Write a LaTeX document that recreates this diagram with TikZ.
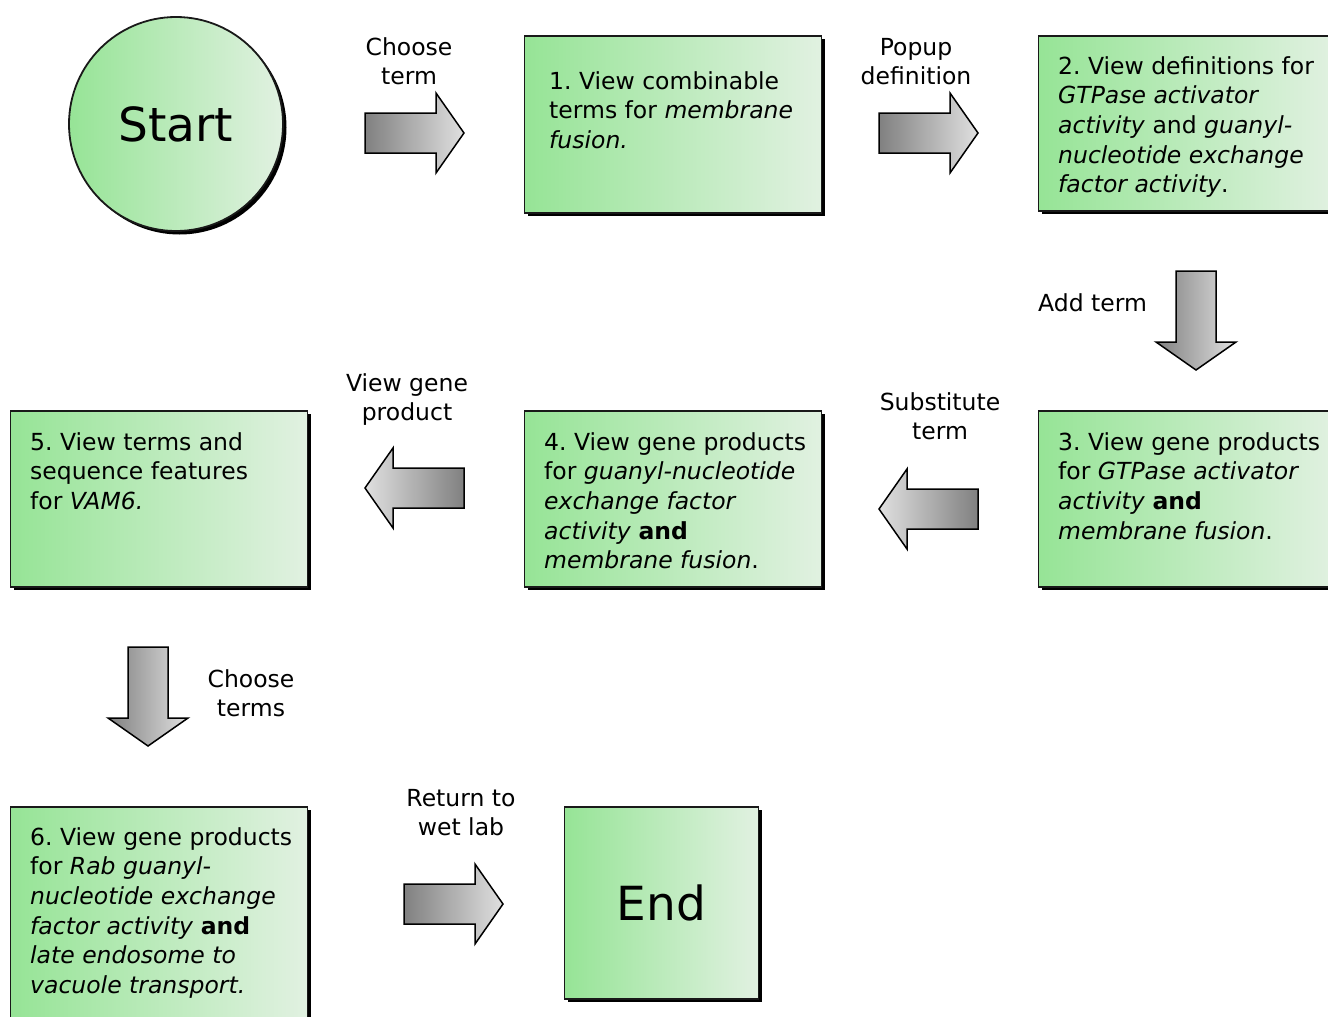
\documentclass[tikz,border=0pt]{standalone}
\usepackage{fontspec}
\setmainfont{DejaVu Sans}
\usetikzlibrary{shadows}
\frenchspacing
\definecolor{gl}{RGB}{150,228,150}
\definecolor{gr}{RGB}{225,241,225}
\definecolor{ad}{RGB}{128,128,128}
\definecolor{al}{RGB}{224,224,224}
\begin{document}
\begin{tikzpicture}[x=1pt,y=-1pt,
  box/.style={rectangle, draw=black!90, line width=1.8pt, left color=gl, right color=gr,
    general shadow={fill=black, shadow xshift=3.5pt, shadow yshift=-3.5pt},
    inner sep=0pt, anchor=north west},
  txt/.style={align=left, font=\fontsize{23.5}{29.7}\selectfont, inner sep=0pt, anchor=base west},
  lbl/.style={align=center, font=\fontsize{23.5}{29.5}\selectfont, inner sep=0pt, anchor=base},
  big/.style={font=\fontsize{47}{56}\selectfont},
  arrowline/.style={draw=black, line width=1.5pt, line join=miter},
  barrow/.pic={\path[arrowline, left color=ad, right color=al]
     (0,-20) -- (71,-20) -- (71,-40) -- (99,0) -- (71,40) -- (71,20) -- (0,20) -- cycle;},
  barrowleft/.pic={\path[arrowline, left color=al, right color=ad]
     (0,-20) -- (-71,-20) -- (-71,-40) -- (-99,0) -- (-71,40) -- (-71,20) -- (0,20) -- cycle;}
]
\clip (0,0) rectangle (1328,1017);
\fill[white] (0,0) rectangle (1328,1017);

% start
\node[circle, draw=black!90, line width=1.8pt, left color=gl, right color=gr,
  general shadow={fill=black, shadow xshift=3.5pt, shadow yshift=-3.5pt},
  minimum size=214pt, inner sep=0pt, big] (start) at (176,124) {Start};

% boxes
\node[box, minimum width=297pt, minimum height=177pt] (b1) at (523.5,35) {};
\node[box, minimum width=297pt, minimum height=175pt] (b2) at (1037.5,35) {};
\node[box, minimum width=297pt, minimum height=176pt] (b3) at (1037.5,410) {};
\node[box, minimum width=297pt, minimum height=176pt] (b4) at (523.5,410) {};
\node[box, minimum width=297pt, minimum height=176pt] (b5) at (9.5,410) {};
\node[box, minimum width=297pt, minimum height=240pt] (b6) at (9.5,806) {};
\node[box, minimum width=194pt, minimum height=192pt] (end) at (563.5,806) {};
\node[big] (endt) at (end.center) {End};

% box texts (anchor = baseline of last line)
\node[txt] (t1) at (549,148.4) {1. View combinable\\terms for \textit{membrane}\\\textit{fusion.}};
\node[txt] (t2) at (1058,192.8) {2. View definitions for\\\textit{GTPase activator}\\\textit{activity} and \textit{guanyl-}\\\textit{nucleotide exchange}\\\textit{factor activity}.};
\node[txt] (t3) at (1058,539.1) {3. View gene products\\for \textit{GTPase activator}\\\textit{activity} \textbf{and}\\\textit{membrane fusion}.};
\node[txt] (t4) at (544,568.8) {4. View gene products\\for \textit{guanyl-nucleotide}\\\textit{exchange factor}\\\textit{activity} \textbf{and}\\\textit{membrane fusion}.};
\node[txt] (t5) at (30,509.4) {5. View terms and\\sequence features\\for \textit{VAM6.}};
\node[txt] (t6) at (30,993.5) {6. View gene products\\for \textit{Rab guanyl-}\\\textit{nucleotide exchange}\\\textit{factor activity} \textbf{and}\\\textit{late endosome to}\\\textit{vacuole transport.}};

% block arrows
\pic at (365,133) {barrow};
\pic at (879,133) {barrow};
\pic[rotate=-90] at (1196,271) {barrow};
\pic at (978,509) {barrowleft};
\pic at (464,488) {barrowleft};
\pic[rotate=-90] at (148,647) {barrow};
\pic at (404,904) {barrow};

% labels (anchor = baseline of last line)
\node[lbl] (l1) at (409,84.5) {Choose\\term};
\node[lbl] (l2) at (916,84.5) {Popup\\definition};
\node[lbl, anchor=base west] (l3) at (1038,311) {Add term};
\node[lbl] (l4) at (940,439.5) {Substitute\\term};
\node[lbl] (l5) at (407,420.5) {View gene\\product};
\node[lbl] (l6) at (251,716.5) {Choose\\terms};
\node[lbl] (l7) at (461,835.5) {Return to\\wet lab};
\end{tikzpicture}
\end{document}
